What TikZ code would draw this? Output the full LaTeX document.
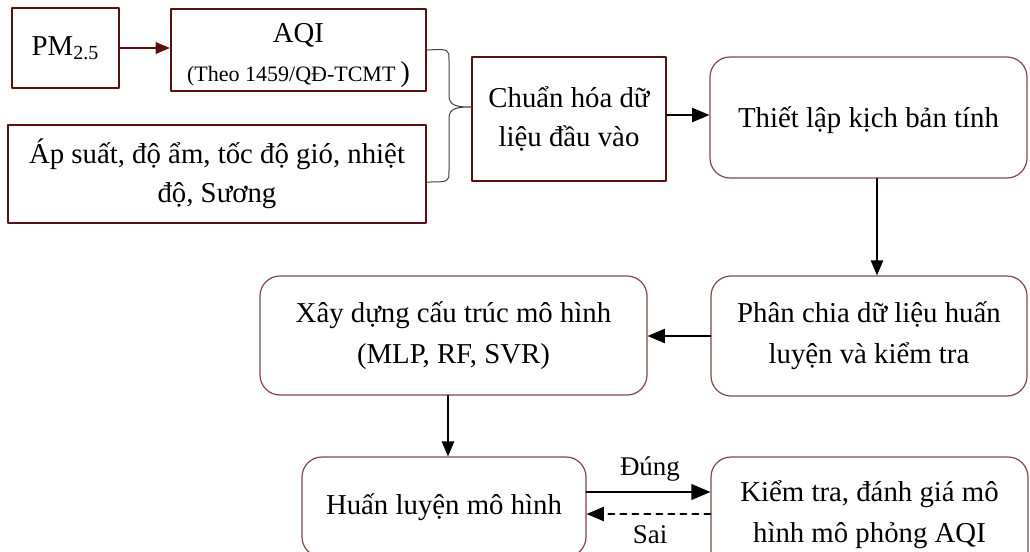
\documentclass[tikz,border=0pt]{standalone}
\usepackage{fontspec}
\setmainfont{Liberation Serif}
\usepackage{tikz}
\usetikzlibrary{arrows}
\definecolor{boxred}{RGB}{88,16,16}
\definecolor{roundred}{RGB}{130,70,70}

\begin{document}
\begin{tikzpicture}[line cap=round,line join=round,>=triangle 45,x=0.5pt,y=-0.5pt]
\useasboundingbox (0,0) rectangle (1030,552);
\clip (0,0) rectangle (1030,552);

\tikzstyle{mybox}=[draw=boxred, line width=1.2pt, align=center, inner sep=0pt, font=\fontsize{14.4}{19.5}\selectfont];
\tikzstyle{myround}=[draw=roundred, line width=0.6pt, rounded corners=10pt, align=center, inner sep=0pt, font=\fontsize{14.4}{20.5}\selectfont];
\tikzstyle{myarrow}=[->, line width=1pt, color=black];

% input data
\node[mybox, minimum width=53.5pt, minimum height=40pt] (pm) at (65.5,48) {PM\textsubscript{2.5}};
\node[mybox, minimum width=127.5pt, minimum height=41pt] (aqi) at (298.5,50) {\rule{0pt}{15.5pt}AQI\\{\fontsize{11}{13}\selectfont(Theo 1459/QĐ-TCMT}\,)};
\node[mybox, minimum width=209pt, minimum height=49pt] (met) at (217,174) {Áp suất, độ ẩm, tốc độ gió, nhiệt\\độ, Sương};
\node[mybox, minimum width=97pt, minimum height=62pt] (norm) at (569,119) {Chuẩn hóa dữ\\liệu đầu vào};

% model steps
\node[myround, minimum width=158.5pt, minimum height=60.5pt] (scen) at (868.5,117.5) {\rule{0pt}{13pt}Thiết lập kịch bản tính};
\node[myround, minimum width=158pt, minimum height=60pt] (split) at (869,336) {Phân chia dữ liệu huấn\\luyện và kiểm tra};
\node[myround, minimum width=193.5pt, minimum height=59.5pt] (build) at (453.5,335.5) {Xây dựng cấu trúc mô hình\\(MLP, RF, SVR)};
\node[myround, minimum width=142pt, minimum height=50pt] (train) at (444,507) {Huấn luyện mô hình};
\node[myround, minimum width=158.5pt, minimum height=58pt] (eval) at (869.5,515) {Kiểm tra, đánh giá mô\\hình mô phỏng AQI};

\draw [->, line width=0.6pt, color=boxred] (pm.east) -- (aqi.west |- pm.east);
% brace
\draw [color=darkgray, line width=0.5pt] (aqi.east) .. controls (449,49) .. (449,60) -- (449,96)
  .. controls (449,107) and (460,107) .. (472,107)
  .. controls (460,107) and (449,107) .. (449,118) -- (449,171)
  .. controls (449,182) .. ([yshift=-4pt]met.east);
\draw [myarrow] ([yshift=2pt]norm.east) -- ([yshift=2pt]norm.east -| scen.west);
\draw [myarrow, line width=0.7pt] ([xshift=4.25pt]scen.south) -- ([xshift=4.25pt]scen.south |- split.north);
\draw [myarrow] (split.west) -- (split.west -| build.east);
\draw [myarrow, line width=0.7pt] ([xshift=-2.75pt]build.south) -- ([xshift=-2.75pt]build.south |- train.north);
\draw [myarrow, line width=1.2pt] ([yshift=7.5pt]train.east) -- ([yshift=7.5pt]train.east -| eval.west);
\draw [myarrow, dashed] ([yshift=-3.5pt]train.east -| eval.west) -- ([yshift=-3.5pt]train.east);

\node[font=\fontsize{13.5}{16}\selectfont] (ok) at (650,469) {Đúng};
\node[font=\fontsize{13.5}{16}\selectfont] (no) at (650,535) {Sai};
\end{tikzpicture}
\end{document}
